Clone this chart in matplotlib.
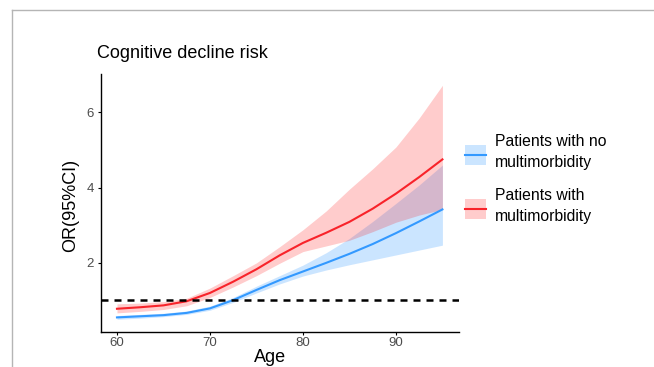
import matplotlib
matplotlib.use('Agg')
import matplotlib.pyplot as plt
from matplotlib.lines import Line2D
from matplotlib.patches import Rectangle

plt.rcParams['font.family'] = ['Liberation Sans', 'DejaVu Sans']

# data
age = [60, 62.5, 65, 67.5, 70, 72.5, 75, 77.5, 80, 82.5, 85, 87.5, 90, 92.5, 95]

no_mm_or = [0.55, 0.58, 0.61, 0.67, 0.79, 1.01, 1.28, 1.54, 1.77, 2.00, 2.24, 2.50, 2.79, 3.10, 3.42]
no_mm_lo = [0.50, 0.53, 0.57, 0.63, 0.74, 0.95, 1.20, 1.44, 1.65, 1.81, 1.95, 2.08, 2.21, 2.34, 2.47]
no_mm_hi = [0.60, 0.63, 0.66, 0.72, 0.85, 1.08, 1.38, 1.66, 1.94, 2.27, 2.65, 3.10, 3.58, 4.07, 4.60]

mm_or = [0.78, 0.82, 0.87, 0.98, 1.20, 1.50, 1.83, 2.20, 2.53, 2.80, 3.09, 3.44, 3.84, 4.28, 4.75]
mm_lo = [0.67, 0.71, 0.76, 0.86, 1.08, 1.36, 1.66, 1.99, 2.30, 2.45, 2.60, 2.83, 3.08, 3.27, 3.42]
mm_hi = [0.91, 0.93, 0.97, 1.06, 1.33, 1.66, 2.00, 2.43, 2.88, 3.38, 3.96, 4.50, 5.08, 5.85, 6.72]

labels = ['Patients with no\nmultimorbidity', 'Patients with\nmultimorbidity']
blue = '#3399FF'
red = '#F8232A'

W, H = 654, 367
fig = plt.figure(figsize=(W / 100, H / 100), dpi=100)


def fx(px):
    return px / W


def fy(py):
    return 1 - py / H


# light grey frame of the original screenshot
fig.add_artist(Line2D([fx(12), 1], [fy(10), fy(10)], color='#B5B5B5', lw=1))
fig.add_artist(Line2D([fx(12), fx(12)], [fy(10), 0], color='#B5B5B5', lw=1))

ax = fig.add_axes([fx(100.7), fy(331.7), fx(458.7) - fx(100.7), fy(74) - fy(331.7)])

ax.fill_between(age, no_mm_lo, no_mm_hi, color=blue, alpha=0.25, lw=0)
ax.fill_between(age, mm_lo, mm_hi, color='#FF0000', alpha=0.2, lw=0)
ax.plot(age, no_mm_or, color=blue, lw=1.5)
ax.plot(age, mm_or, color=red, lw=1.5)
ax.axhline(1, color='black', lw=1.8, dashes=(2.8, 2.4))

ax.set_xlim(58.25, 96.75)
ax.set_ylim(0.17, 7.02)
ax.set_xticks([60, 70, 80, 90])
ax.set_yticks([2, 4, 6])
for s in ['top', 'right']:
    ax.spines[s].set_visible(False)
for s in ['left', 'bottom']:
    ax.spines[s].set_linewidth(1.0)
ax.tick_params(length=2.5, width=0.8, labelsize=9.5, labelcolor='#4D4D4D')
ax.tick_params(axis='x', pad=1.5)
ax.tick_params(axis='y', pad=2.5)

fig.text(fx(97.3), fy(58.3), 'Cognitive decline risk', fontsize=13, va='baseline', ha='left')
fig.text(fx(71), fy(205.5), 'OR(95%CI)', fontsize=13, rotation=90, va='center', ha='center')
fig.text(fx(270), fy(362), 'Age', fontsize=13, va='baseline', ha='center')

# legend keys
keys = [(blue, 0.25, blue, 145), ('#FF0000', 0.2, red, 199)]
for (fill, a, lc, top), lab in zip(keys, labels):
    fig.add_artist(Rectangle((fx(465), fy(top + 20)), fx(21), fy(top) - fy(top + 20),
                             facecolor=fill, alpha=a, lw=0))
    fig.add_artist(Line2D([fx(465), fx(486)], [fy(top + 10), fy(top + 10)], color=lc, lw=1.5))
    fig.text(fx(495), fy(top + 7), lab, fontsize=11.3, va='center', ha='left', linespacing=1.45)

fig.savefig('out.png', dpi=100)
